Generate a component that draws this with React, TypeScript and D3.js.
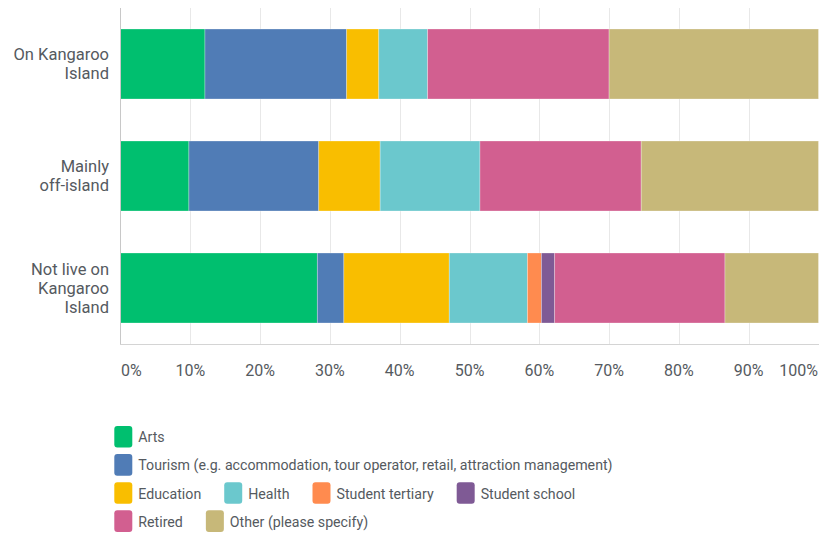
import React, { useEffect, useRef } from "react";
import * as d3 from "d3";

// categories (each label split into its printed lines)
const categoryLines = [
  ["On Kangaroo", "Island"],
  ["Mainly", "off-island"],
  ["Not live on", "Kangaroo", "Island"],
];

const seriesNames = [
  "Arts",
  "Tourism (e.g. accommodation, tour operator, retail, attraction management)",
  "Education",
  "Health",
  "Student tertiary",
  "Student school",
  "Retired",
  "Other (please specify)",
];

// percentages per category
const arts = [12.1, 9.8, 28.2];
const tourism = [20.3, 18.6, 3.8];
const education = [4.6, 8.8, 15.1];
const health = [7.0, 14.3, 11.2];
const studentTertiary = [0, 0, 2.0];
const studentSchool = [0, 0, 1.9];
const retired = [26.0, 23.1, 24.4];
const other = [30.0, 25.4, 13.4];

const tickValues = [0, 10, 20, 30, 40, 50, 60, 70, 80, 90, 100];

const colors = [
  "#00BF6F",
  "#507CB6",
  "#F9BE00",
  "#6BC8CD",
  "#FF8B4F",
  "#7F5A95",
  "#D25F90",
  "#C7B879",
];

// legend rows (indices into seriesNames)
const legendRows = [[0], [1], [2, 3, 4, 5], [6, 7]];

const W = 819;
const H = 536;
const FONT = "Roboto, 'Noto Sans', sans-serif";

export default function App() {
  const ref = useRef<SVGSVGElement>(null);

  useEffect(() => {
    const svg = d3.select(ref.current);
    svg.selectAll("*").remove();

    const allSeries = [arts, tourism, education, health, studentTertiary, studentSchool, retired, other];
    const rows = categoryLines.map((lines, i) => {
      const row: any = { key: lines.join(" ") };
      seriesNames.forEach((s, j) => (row[s] = allSeries[j][i]));
      return row;
    });

    const x = d3.scaleLinear().domain([0, 100]).range([120.5, 818.5]);
    const y = d3
      .scaleBand()
      .domain(rows.map((r) => r.key))
      .range([8, 344])
      .paddingInner(0.375)
      .paddingOuter(0.1875);

    // grid
    svg
      .append("g")
      .selectAll("line")
      .data(tickValues.slice(1))
      .join("line")
      .attr("x1", (d) => Math.round(x(d)) + 0.5)
      .attr("x2", (d) => Math.round(x(d)) + 0.5)
      .attr("y1", 8)
      .attr("y2", 344)
      .attr("stroke", "#e8e8e8");

    const stacked = d3.stack<any>().keys(seriesNames)(rows);

    svg
      .append("g")
      .selectAll("g")
      .data(stacked)
      .join("g")
      .attr("fill", (_, i) => colors[i])
      .selectAll("rect")
      .data((d) => d.filter((p) => p[1] - p[0] > 0))
      .join("rect")
      .attr("x", (d) => x(d[0]))
      .attr("width", (d) => x(d[1]) - x(d[0]))
      .attr("y", (d) => y(d.data.key)!)
      .attr("height", y.bandwidth())
      .attr("stroke", "rgba(255,255,255,0.35)")
      .attr("stroke-width", 0.8);

    // axis lines
    svg
      .append("line")
      .attr("x1", 120.5)
      .attr("x2", 120.5)
      .attr("y1", 8)
      .attr("y2", 344)
      .attr("stroke", "#c8c8c8");
    svg
      .append("line")
      .attr("x1", 120)
      .attr("x2", W)
      .attr("y1", 344.5)
      .attr("y2", 344.5)
      .attr("stroke", "#d4d4d4");

    // x tick labels
    svg
      .append("g")
      .selectAll("text")
      .data(tickValues)
      .join("text")
      .attr("x", (d) => (d === 0 ? 121 : d === 100 ? 818 : x(d)))
      .attr("y", 376)
      .attr("text-anchor", (d) => (d === 0 ? "start" : d === 100 ? "end" : "middle"))
      .attr("font-family", FONT)
      .attr("font-size", 16)
      .attr("fill", "#555a60")
      .text((d) => `${d}%`);

    // category labels
    const cat = svg
      .append("g")
      .selectAll("text")
      .data(rows)
      .join("text")
      .attr("text-anchor", "end")
      .attr("font-family", FONT)
      .attr("font-size", 16.5)
      .attr("fill", "#555a60");
    cat
      .selectAll("tspan")
      .data((d, i) => categoryLines[i].map((t, k, arr) => ({ t, off: (k - (arr.length - 1) / 2) * 19, key: d.key })))
      .join("tspan")
      .attr("x", 109)
      .attr("y", (d) => y(d.key)! + y.bandwidth() / 2 + d.off + 5.5)
      .text((d) => d.t);

    // legend
    const legend = svg.append("g");
    legendRows.forEach((row, r) => {
      const cy = 436.8 + r * 28.1;
      let lx = 114.3;
      row.forEach((idx) => {
        legend
          .append("rect")
          .attr("x", lx)
          .attr("y", cy - 10.8)
          .attr("width", 18)
          .attr("height", 21.6)
          .attr("rx", 3)
          .attr("fill", colors[idx]);
        const t = legend
          .append("text")
          .attr("x", lx + 24)
          .attr("y", cy + 5.5)
          .attr("font-family", FONT)
          .attr("font-size", 14.2)
          .attr("fill", "#555a60")
          .text(seriesNames[idx]);
        const w = (t.node() as SVGTextElement).getComputedTextLength();
        lx += 24 + w + 23;
      });
    });
  }, []);

  return (
    <svg
      ref={ref}
      width={W}
      height={H}
      style={{ position: "absolute", left: 0, top: 0, background: "#fff" }}
    />
  );
}
